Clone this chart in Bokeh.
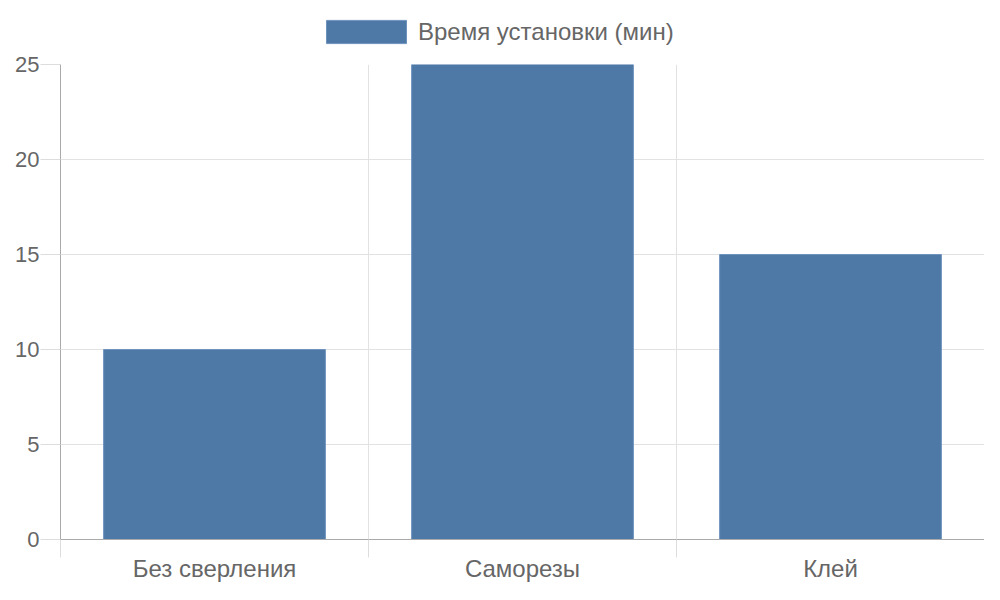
from bokeh.plotting import figure
from bokeh.layouts import column
from bokeh.models import FixedTicker, Legend, LegendItem, Range1d, ColumnDataSource
from bokeh.embed import file_html
from bokeh.resources import INLINE

categories = ["Без сверления", "Саморезы", "Клей"]
values = [10, 25, 15]
series_name = "Время установки (мин)"
y_ticks = [0, 5, 10, 15, 20, 25]

FONT = "Liberation Sans"
TXT = "#666666"
BAR = "#4e79a7"
EDGE = "#6f93bd"

xs = [i + 0.5 for i in range(len(categories))]
src = ColumnDataSource(dict(x=xs, top=values))

# ---- legend strip on top ----
leg = figure(width=984, height=46, output_backend="svg", toolbar_location=None,
             x_range=Range1d(0, 1), y_range=Range1d(1, 2),
             min_border_left=0, min_border_right=0, min_border_top=0, min_border_bottom=0)
leg.axis.visible = False
leg.grid.visible = False
leg.outline_line_color = None
# zero-size, out-of-view renderer that only supplies the legend swatch style
lr = leg.vbar(x=[0.5], top=[0], bottom=0, width=0, fill_color=BAR, line_color=EDGE)
legend = Legend(items=[LegendItem(label=series_name, renderers=[lr])],
                location=(256, 0), orientation="horizontal",
                glyph_width=100, glyph_height=29, label_standoff=2,
                padding=0, margin=0, border_line_color=None,
                background_fill_alpha=0,
                label_text_font=FONT, label_text_font_size="24px",
                label_text_color=TXT)
leg.add_layout(legend, "center")

# ---- main chart ----
p = figure(width=984, height=538, output_backend="svg", toolbar_location=None,
           x_range=Range1d(0, len(categories)), y_range=Range1d(0, 25),
           min_border_left=60, min_border_right=0, min_border_top=18, min_border_bottom=44)
p.outline_line_color = None

p.vbar(x="x", top="top", width=0.72, bottom=0, source=src,
       fill_color=BAR, line_color=EDGE, line_width=1)

# x axis
p.xaxis.ticker = FixedTicker(ticks=xs, minor_ticks=list(range(len(categories) + 1)))
p.xaxis.major_label_overrides = {x: c for x, c in zip(xs, categories)}
p.xaxis.major_tick_line_color = None
p.xaxis.major_tick_out = 0
p.xaxis.minor_tick_out = 18
p.xaxis.minor_tick_in = 0
p.xaxis.minor_tick_line_color = "#dddddd"
p.xaxis.axis_line_color = "#aaaaaa"
p.xaxis.major_label_standoff = -3
p.xaxis.major_label_text_font = FONT
p.xaxis.major_label_text_font_size = "24px"
p.xaxis.major_label_text_color = TXT

# y axis
p.yaxis.ticker = FixedTicker(ticks=y_ticks)
p.yaxis.minor_tick_line_color = None
p.yaxis.major_tick_out = 20
p.yaxis.major_tick_in = 0
p.yaxis.major_tick_line_color = "#dddddd"
p.yaxis.axis_line_color = "#aaaaaa"
p.yaxis.major_label_standoff = 1
p.yaxis.major_label_text_font = FONT
p.yaxis.major_label_text_font_size = "22px"
p.yaxis.major_label_text_color = TXT

p.xgrid.ticker = FixedTicker(ticks=list(range(len(categories) + 1)))
p.xgrid.grid_line_color = "#e2e2e2"
p.ygrid.ticker = FixedTicker(ticks=y_ticks)
p.ygrid.grid_line_color = "#e2e2e2"

layout = column(leg, p, spacing=0)
open("out.html", "w").write(file_html(layout, INLINE))
